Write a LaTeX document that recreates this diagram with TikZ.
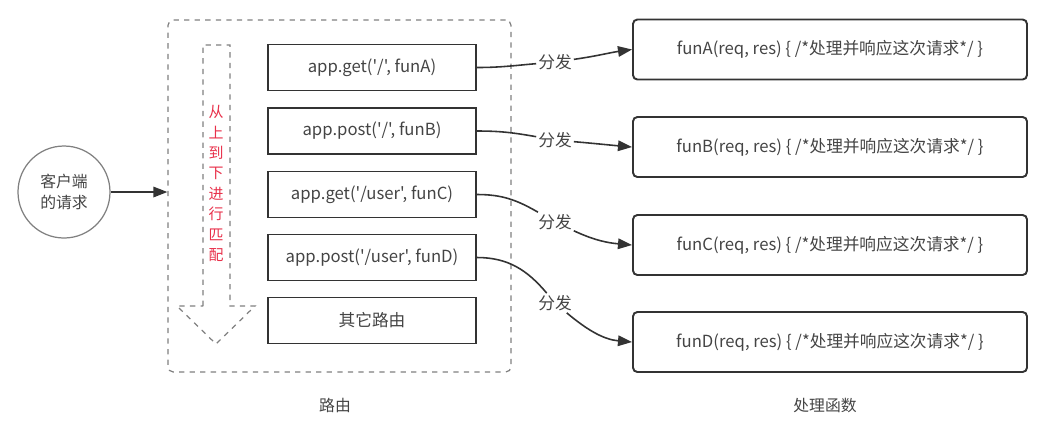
\documentclass[tikz,border=0pt]{standalone}
\usepackage{fontspec}
\setmainfont{Noto Sans CJK SC}[Ligatures=TeXOff]
\usetikzlibrary{positioning}
\usetikzlibrary{arrows.meta}
\definecolor{txtgray}{HTML}{444444}
\definecolor{linegray}{HTML}{333333}
\definecolor{dashgray}{HTML}{808080}
\definecolor{matchred}{HTML}{E8304A}
\tikzset{
  routebox/.style={draw=linegray,line width=1.1pt,minimum width=4.16cm,minimum height=0.92cm,text=txtgray,font=\fontsize{9.5}{11}\selectfont},
  handlerbox/.style={draw=linegray,line width=1.1pt,rounded corners=2.5pt,minimum width=7.88cm,minimum height=1.2cm,text=txtgray,font=\fontsize{9.5}{11}\selectfont},
  sendlabel/.style={fill=white,inner sep=1pt,text=txtgray,font=\fontsize{9.5}{11}\selectfont},
  sendarrow/.style={draw=linegray,line width=0.9pt,-{Triangle[length=8pt,width=6pt]}},
  sendline/.style={draw=linegray,line width=0.9pt}
}

\begin{document}
\begin{tikzpicture}
  \useasboundingbox (0,0) rectangle (21.16,-8.56);
  % client
  \node[circle,draw=dashgray,line width=0.7pt,minimum size=1.84cm,align=center,text=txtgray,font=\fontsize{9}{12}\selectfont] (client) at (1.28,-3.84) {客户端\\的请求};
  % router area
  \node[draw=dashgray,dashed,line width=0.7pt,rounded corners=3pt,minimum width=6.86cm,minimum height=7.04cm] (router) at (6.79,-3.92) {};
  \draw[sendarrow] (client.east) -- (client.east -| router.west);
  % hollow arrow: top to bottom
  \draw[dashgray,dashed,line width=0.7pt] (4.06,-6.12) -- (4.06,-0.9) -- (4.60,-0.9) -- (4.60,-6.12)
    -- (5.10,-6.12) -- (4.32,-6.88) -- (3.54,-6.12) -- cycle;
  \node[align=center,text=matchred,font=\fontsize{8.5}{11.6}\selectfont] (match) at (4.32,-3.67) {从\\上\\到\\下\\进\\行\\匹\\配};
  % routes
  \node[routebox] (r1) at (7.44,-1.35) {app.get('/', funA)};
  \node[routebox] (r2) at (7.44,-2.62) {app.post('/', funB)};
  \node[routebox] (r3) at (7.44,-3.89) {app.get('/user', funC)};
  \node[routebox] (r4) at (7.44,-5.15) {app.post('/user', funD)};
  \node[routebox] (r5) at (7.44,-6.41) {其它路由};
  % handlers
  \node[handlerbox] (h1) at (16.6,-0.99) {funA(req, res) \{ /*处理并响应这次请求*/ \}};
  \node[handlerbox] (h2) at (16.6,-2.94) {funB(req, res) \{ /*处理并响应这次请求*/ \}};
  \node[handlerbox] (h3) at (16.6,-4.90) {funC(req, res) \{ /*处理并响应这次请求*/ \}};
  \node[handlerbox] (h4) at (16.6,-6.84) {funD(req, res) \{ /*处理并响应这次请求*/ \}};
  % dispatch
  \node[sendlabel] (s1) at (11.1,-1.24) {分发};
  \node[sendlabel] (s2) at (11.1,-2.80) {分发};
  \node[sendlabel] (s3) at (11.1,-4.44) {分发};
  \node[sendlabel] (s4) at (11.1,-6.06) {分发};
  \draw[sendline] (r1.east) to[out=0,in=185] (s1);
  \draw[sendarrow] (s1) to[out=8,in=188] (h1.west);
  \draw[sendline] (r2.east) to[out=0,in=170] (s2);
  \draw[sendarrow] (s2) to[out=-5,in=175] (h2.west);
  \draw[sendline] (r3.east) to[out=0,in=150] (s3);
  \draw[sendarrow] (s3) to[out=-25,in=175] (h3.west);
  \draw[sendline] (r4.east) to[out=0,in=130] (s4);
  \draw[sendarrow] (s4) to[out=-40,in=175] (h4.west);
  % captions
  \node[text=txtgray,font=\fontsize{9}{11}\selectfont] (routecap) at (6.7,-8.1) {路由};
  \node[text=txtgray,font=\fontsize{9}{11}\selectfont] (handlercap) at (16.5,-8.1) {处理函数};
\end{tikzpicture}
\end{document}
